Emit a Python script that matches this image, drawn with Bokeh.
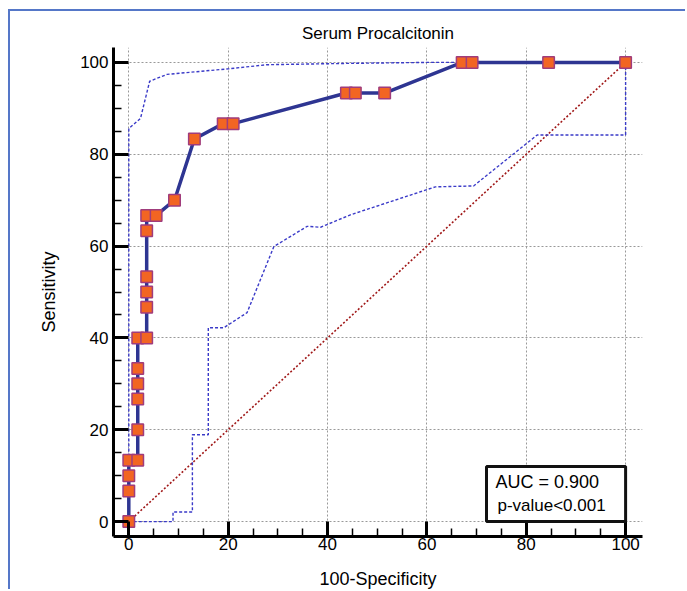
from bokeh.plotting import figure
from bokeh.models import Range1d, FixedTicker, BoxAnnotation, Label
from bokeh.embed import file_html
from bokeh.resources import INLINE

# ROC curve (100-Specificity, Sensitivity)
roc_x = [0, 0, 0, 0, 1.8, 1.8, 1.8, 1.8, 1.8, 1.8, 3.6, 3.6, 3.6, 3.6, 3.6, 3.6,
         5.5, 9.2, 13.2, 19.0, 21.0, 43.8, 45.6, 51.5, 67.1, 69.1, 84.5, 100]
roc_y = [0, 6.67, 10, 13.33, 13.33, 20, 26.67, 30, 33.33, 40, 40, 46.67, 50, 53.33, 63.33, 66.67,
         66.67, 70, 83.33, 86.67, 86.67, 93.33, 93.33, 93.33, 100, 100, 100, 100]

# 95% confidence bounds
upper_x = [0, 0, 2.35, 4.2, 7.7, 20, 27.8, 44.6, 60, 100]
upper_y = [0, 85.6, 87.8, 95.9, 97.4, 98.6, 99.5, 99.8, 100, 100]
lower_x = [0, 8.9, 8.9, 12.8, 12.8, 16.0, 16.0, 19.1, 23.8, 29.2, 35.9, 38.6, 44.6, 61.7, 69.4, 82.2, 100, 100]
lower_y = [0, 0, 2.1, 2.1, 18.9, 18.9, 42.2, 42.2, 45.5, 59.9, 64.3, 64.1, 66.8, 72.9, 73.1, 84.2, 84.2, 100]

# reference diagonal
diag_x = [0, 100]
diag_y = [0, 100]

ticks = [0, 20, 40, 60, 80, 100]
title_text = "Serum Procalcitonin"
xlabel = "100-Specificity"
ylabel = "Sensitivity"
auc_text = "AUC = 0.900"
p_text = "p-value<0.001"

FONT = "Liberation Sans"

p = figure(width=677, height=580, output_backend="svg", toolbar_location=None,
           x_range=Range1d(-3.08, 103.4), y_range=Range1d(-3.25, 103.25),
           min_border_left=103, min_border_right=45, min_border_top=36, min_border_bottom=53)
p.styles = {"margin-left": "8px", "margin-top": "9px",
            "border-top": "2px solid #5577C8", "border-left": "2px solid #5577C8"}
p.outline_line_color = None
p.background_fill_color = "white"
p.border_fill_color = "white"

p.title.text = title_text
p.title.align = "center"
p.title.text_font = FONT
p.title.text_font_size = "17px"
p.title.text_font_style = "normal"
p.title.text_color = "black"

for ax in (p.xaxis[0], p.yaxis[0]):
    ax.ticker = FixedTicker(ticks=ticks, minor_ticks=list(range(0, 101, 5)))
    ax.axis_line_width = 3
    ax.axis_line_color = "black"
    ax.major_tick_in = 15
    ax.major_tick_out = 0
    ax.minor_tick_in = 8
    ax.minor_tick_out = 0
    ax.major_tick_line_width = 3
    ax.minor_tick_line_width = 1.5
    ax.major_label_text_font = FONT
    ax.major_label_text_font_size = "17px"
    ax.major_label_text_color = "black"
    ax.axis_label_text_font = FONT
    ax.axis_label_text_font_size = "18px"
    ax.axis_label_text_font_style = "normal"
    ax.axis_label_text_color = "black"

p.xaxis.axis_label = xlabel
p.yaxis.axis_label = ylabel
p.xaxis.major_label_standoff = 1
p.yaxis.major_label_standoff = 5
p.xaxis.axis_label_standoff = 16
p.yaxis.axis_label_standoff = 18
p.yaxis.major_label_orientation = "horizontal"

p.grid.grid_line_color = "#999999"
p.grid.grid_line_dash = "2 2"
p.grid.grid_line_width = 1

p.line(diag_x, diag_y, line_color="#A01818", line_width=1.6, line_dash="2 2")
p.line(upper_x, upper_y, line_color="#3A3AC8", line_width=1.4, line_dash="3 2")
p.line(lower_x, lower_y, line_color="#3A3AC8", line_width=1.4, line_dash="3 2")
p.line(roc_x, roc_y, line_color="#2E3592", line_width=3.5)
p.scatter(roc_x, roc_y, marker="square", size=11.5, fill_color="#F26522",
          line_color="#A03C7C", line_width=1.5)

box = BoxAnnotation(left=72, right=100, bottom=0, top=12, fill_color="white", fill_alpha=1,
                    line_color="#111111", line_alpha=1, line_width=3, level="annotation")
p.add_layout(box)
p.add_layout(Label(x=73.8, y=8.7, text=auc_text, text_font=FONT, text_font_size="18px",
                   text_baseline="middle", text_align="left", text_color="black"))
p.add_layout(Label(x=74.2, y=3.5, text=p_text, text_font=FONT, text_font_size="17px",
                   text_baseline="middle", text_align="left", text_color="black"))

open("out.html", "w").write(file_html(p, INLINE))
